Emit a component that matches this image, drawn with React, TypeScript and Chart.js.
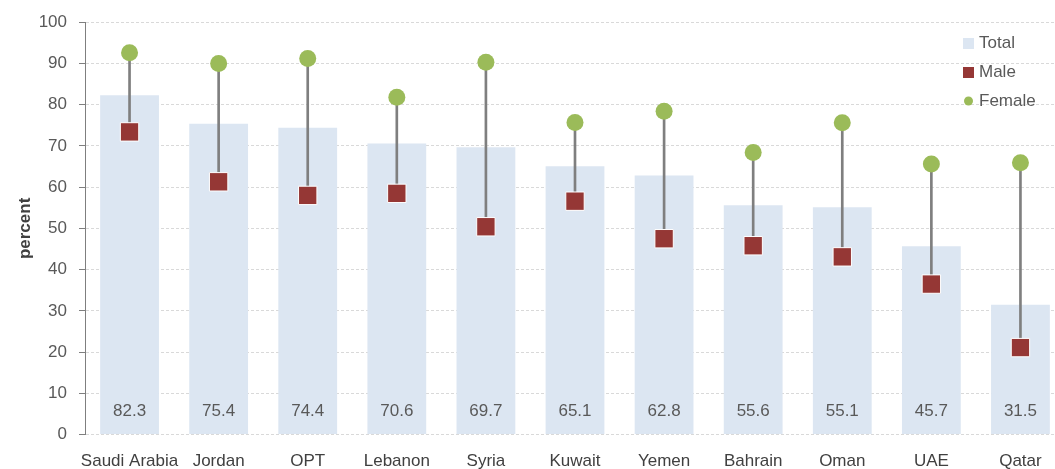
import React, { useEffect, useRef } from "react";
import { Chart, registerables } from "chart.js";

Chart.register(...registerables);

const categories = ["Saudi Arabia", "Jordan", "OPT", "Lebanon", "Syria", "Kuwait", "Yemen", "Bahrain", "Oman", "UAE", "Qatar"];
const totalValues = [82.3, 75.4, 74.4, 70.6, 69.7, 65.1, 62.8, 55.6, 55.1, 45.7, 31.5];
const maleValues = [73.4, 61.3, 58.0, 58.5, 50.4, 56.6, 47.5, 45.8, 43.1, 36.5, 21.1];
const femaleValues = [92.6, 90.0, 91.2, 81.8, 90.3, 75.7, 78.4, 68.4, 75.6, 65.6, 65.9];
const yTicks = [0, 10, 20, 30, 40, 50, 60, 70, 80, 90, 100];

const FONT = "'Liberation Sans', Arial, sans-serif";
const TEXT = "#595959";
const TOTAL_COLOR = "#dce6f2";
const MALE_COLOR = "#953735";
const FEMALE_COLOR = "#9bbb59";
const LINE_COLOR = "#7f7f7f";

const overlayPlugin = {
  id: "overlay",
  afterDraw(chart: any) {
    const ctx = chart.ctx;
    const x = chart.scales.x;
    const y = chart.scales.y;
    ctx.save();
    ctx.font = `17px ${FONT}`;
    ctx.fillStyle = TEXT;
    ctx.textAlign = "center";
    ctx.textBaseline = "middle";
    const baseY = y.getPixelForValue(0) - 23;
    totalValues.forEach((v, i) => {
      ctx.fillText(v.toFixed(1), x.getPixelForValue(i), baseY);
    });
    // legend
    ctx.textAlign = "left";
    const lx = 963;
    ctx.fillStyle = TOTAL_COLOR;
    ctx.fillRect(lx, 38, 11, 11);
    ctx.fillStyle = MALE_COLOR;
    ctx.fillRect(lx, 67, 11, 11);
    ctx.fillStyle = FEMALE_COLOR;
    ctx.beginPath();
    ctx.arc(lx + 5.5, 101, 4.5, 0, Math.PI * 2);
    ctx.fill();
    ctx.fillStyle = TEXT;
    ctx.fillText("Total", 979, 43);
    ctx.fillText("Male", 979, 72.5);
    ctx.fillText("Female", 979, 101.5);
    ctx.restore();
  },
};

export default function App() {
  const ref = useRef<HTMLCanvasElement>(null);
  useEffect(() => {
    if (!ref.current) return;
    Chart.defaults.font.family = FONT;
    const chart = new Chart(ref.current, {
      type: "bar",
      data: {
        labels: categories,
        datasets: [
          {
            type: "line",
            label: "Female",
            data: femaleValues,
            showLine: false,
            pointStyle: "circle",
            pointRadius: 8.5,
            pointBackgroundColor: FEMALE_COLOR,
            pointBorderColor: FEMALE_COLOR,
            pointBorderWidth: 0,
            order: 0,
          } as any,
          {
            type: "line",
            label: "Male",
            data: maleValues,
            showLine: false,
            pointStyle: "rect",
            pointRadius: 13,
            pointBackgroundColor: MALE_COLOR,
            pointBorderColor: "#ffffff",
            pointBorderWidth: 1,
            order: 1,
          } as any,
          {
            type: "bar",
            label: "Range",
            data: maleValues.map((m, i) => [m, femaleValues[i]]),
            backgroundColor: LINE_COLOR,
            barThickness: 2,
            grouped: false,
            order: 2,
          } as any,
          {
            type: "bar",
            label: "Total",
            data: totalValues,
            backgroundColor: TOTAL_COLOR,
            barPercentage: 0.66,
            categoryPercentage: 1,
            grouped: false,
            order: 3,
          } as any,
        ],
      },
      options: {
        animation: false,
        responsive: true,
        maintainAspectRatio: false,
        layout: { padding: { top: 22, right: 0, bottom: 0, left: 0 } },
        plugins: {
          legend: { display: false },
          tooltip: { enabled: false },
        },
        scales: {
          x: {
            type: "category",
            offset: true,
            grid: { display: false, drawTicks: false },
            border: { display: false },
            ticks: {
              color: "#404040",
              font: { size: 17, family: FONT },
              padding: 17,
              maxRotation: 0,
              autoSkip: false,
            },
          },
          y: {
            min: 0,
            max: 100,
            afterFit: (scale: any) => {
              scale.width = 85;
            },
            afterBuildTicks: (scale: any) => {
              scale.ticks = yTicks.map((v) => ({ value: v }));
            },
            grid: {
              color: "#d9d9d9",
              lineWidth: 1,
              tickColor: LINE_COLOR,
              tickLength: 6,
              tickBorderDash: [],
              tickWidth: 1,
            },
            border: { display: true, color: LINE_COLOR, width: 1, dash: [3, 2] },
            ticks: {
              color: TEXT,
              font: { size: 17, family: FONT },
              padding: 12,
            },
            title: {
              display: true,
              text: "percent",
              color: "#404040",
              font: { size: 17, weight: "bold", family: FONT },
              padding: { top: 15, bottom: 0 },
            },
          },
        },
      },
      plugins: [overlayPlugin],
    });
    return () => chart.destroy();
  }, []);

  return (
    <div style={{ position: "fixed", left: 0, top: 0, width: 1055, height: 469, overflow: "hidden", background: "#fff" }}>
      <div style={{ position: "relative", width: 1079, height: 489 }}>
        <canvas ref={ref} />
      </div>
    </div>
  );
}
